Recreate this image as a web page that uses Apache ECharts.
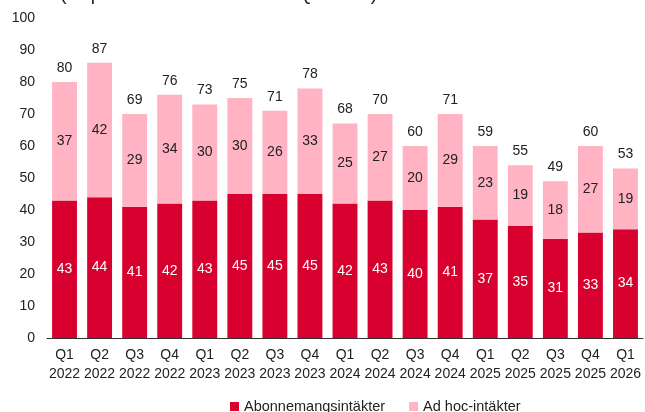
<!DOCTYPE html>
<html>
<head>
<meta charset="utf-8">
<script src="https://cdn.jsdelivr.net/npm/echarts@6/dist/echarts.min.js"></script>
<style>
  html, body { margin: 0; padding: 0; background: #fff; }
  #main { width: 645px; height: 412px; }
</style>
</head>
<body>
<div id="main"></div>
<script>
// kvartal
var categories = ['Q1\n2022', 'Q2\n2022', 'Q3\n2022', 'Q4\n2022',
  'Q1\n2023', 'Q2\n2023', 'Q3\n2023', 'Q4\n2023',
  'Q1\n2024', 'Q2\n2024', 'Q3\n2024', 'Q4\n2024',
  'Q1\n2025', 'Q2\n2025', 'Q3\n2025', 'Q4\n2025', 'Q1\n2026'];
var abonnemang = [43, 44, 41, 42, 43, 45, 45, 45, 42, 43, 40, 41, 37, 35, 31, 33, 34];
var adhoc = [37, 42, 29, 34, 30, 30, 26, 33, 25, 27, 20, 29, 23, 19, 18, 27, 19];
var totals = [80, 87, 69, 76, 73, 75, 71, 78, 68, 70, 60, 71, 59, 55, 49, 60, 53];
var yTicks = [0, 10, 20, 30, 40, 50, 60, 70, 80, 90, 100];

var font = 'Liberation Sans, Arial, sans-serif';
var fs = 14;
var chart = echarts.init(document.getElementById('main'));
chart.setOption({
  animation: false,
  textStyle: { fontFamily: font },
  graphic: [{
    type: 'text', left: 0, top: -15,
    style: {
      text: '{b|MSEK} (Nepa APMs är exkluderat i Q1 2026)',
      rich: { b: { fontWeight: 'bold', fontSize: 19, fontFamily: font, fill: '#222' } },
      fontSize: 19, fontFamily: font, fill: '#222'
    }
  }],
  legend: {
    data: ['Abonnemangsintäkter', 'Ad hoc-intäkter'],
    left: 225, top: 394,
    itemWidth: 9, itemHeight: 9, itemGap: 24,
    icon: 'rect',
    textStyle: { fontSize: 14.5, color: '#222', fontFamily: font }
  },
  grid: { left: 47, right: 2, top: 18, bottom: 74 },
  xAxis: {
    type: 'category',
    data: categories,
    axisLine: { lineStyle: { color: '#333', width: 1 } },
    axisTick: { show: false },
    axisLabel: { color: '#222', fontSize: fs, lineHeight: 19, margin: 8, interval: 0 }
  },
  yAxis: {
    type: 'value',
    min: yTicks[0], max: yTicks[yTicks.length - 1], interval: 10,
    splitLine: { show: false },
    axisLine: { show: false },
    axisLabel: { color: '#222', fontSize: fs, margin: 12 }
  },
  series: [{
    name: 'Abonnemangsintäkter',
    type: 'bar', stack: 'a', barWidth: '71%',
    itemStyle: { color: '#D8002E' },
    label: { show: true, position: 'inside', color: '#fff', fontSize: fs },
    data: abonnemang
  }, {
    name: 'Ad hoc-intäkter',
    type: 'bar', stack: 'a',
    itemStyle: { color: '#FFB3C3' },
    label: { show: true, position: 'inside', color: '#222', fontSize: fs },
    data: adhoc
  }, {
    name: 'Totalt',
    type: 'bar', stack: 'a',
    itemStyle: { color: 'transparent' },
    label: {
      show: true, position: 'top', color: '#222', fontSize: fs, distance: 7,
      formatter: function (p) { return totals[p.dataIndex]; }
    },
    data: totals.map(function () { return 0; })
  }]
});
</script>
</body>
</html>
